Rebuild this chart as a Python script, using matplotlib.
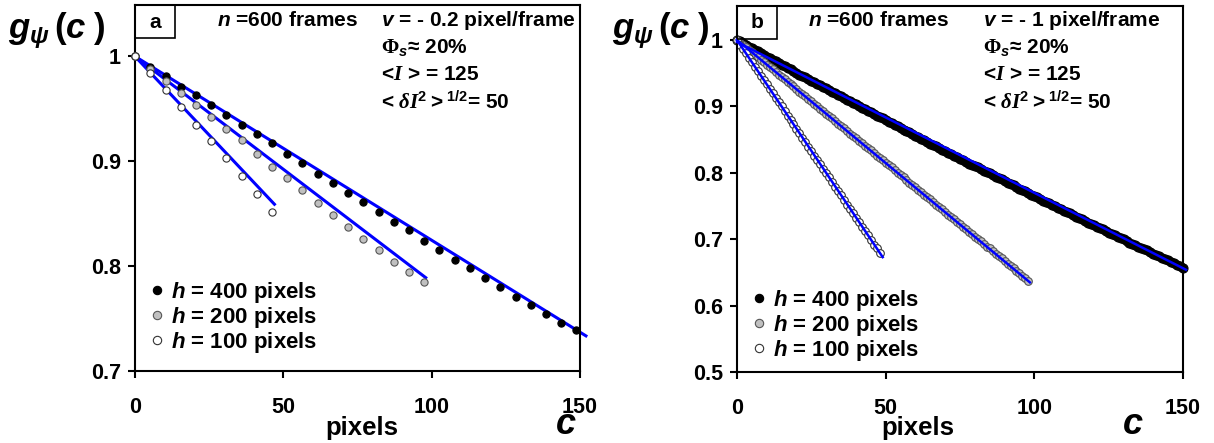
import matplotlib
matplotlib.use("Agg")
import matplotlib.pyplot as plt
from matplotlib.lines import Line2D
from matplotlib.patches import Rectangle

plt.rcParams['font.family'] = ['Liberation Sans', 'DejaVu Sans']
plt.rcParams['font.weight'] = 'bold'
plt.rcParams['mathtext.fontset'] = 'custom'
plt.rcParams['mathtext.rm'] = 'Liberation Serif'
plt.rcParams['mathtext.it'] = 'Liberation Sans:italic:bold'
plt.rcParams['mathtext.sf'] = 'Liberation Sans:bold'
plt.rcParams['mathtext.bf'] = 'Liberation Sans:bold'
plt.rcParams['mathtext.cal'] = 'Liberation Serif:italic'

# ---- panel a : v = -0.2 pixel/frame ----
c_a = [0, 5.1, 10.3, 15.4, 20.5, 25.7, 30.8, 35.9, 41.0, 46.2, 51.3, 56.4, 61.6, 66.7, 71.8,
       77.0, 82.1, 87.2, 92.3, 97.5, 102.6, 107.7, 112.9, 118.0, 123.1, 128.3, 133.4, 138.5,
       143.6, 148.8]
g_a400 = [1.000, 0.990, 0.981, 0.971, 0.963, 0.954, 0.944, 0.935, 0.926, 0.917, 0.907, 0.898,
          0.888, 0.879, 0.870, 0.861, 0.852, 0.842, 0.834, 0.824, 0.815, 0.806, 0.798, 0.789,
          0.780, 0.771, 0.763, 0.754, 0.746, 0.739]
g_a200 = [1.000, 0.988, 0.977, 0.965, 0.954, 0.942, 0.931, 0.920, 0.907, 0.895, 0.884, 0.873,
          0.860, 0.849, 0.837, 0.826, 0.815, 0.804, 0.794, 0.785]
g_a100 = [1.000, 0.984, 0.968, 0.952, 0.935, 0.919, 0.903, 0.886, 0.869, 0.852]

# linear fits (end points)
fit_a400_c, fit_a400_g = [0, 152], [1.000, 0.7335]
fit_a200_c, fit_a200_g = [0, 98], [1.000, 0.789]
fit_a100_c, fit_a100_g = [0, 47], [1.000, 0.859]

# ---- panel b : v = -1 pixel/frame ----
g_b400 = [1.000, 0.998, 0.995, 0.993, 0.990, 0.988, 0.985, 0.983, 0.980, 0.978,
          0.975, 0.973, 0.970, 0.968, 0.966, 0.963, 0.961, 0.958, 0.956, 0.953,
          0.951, 0.948, 0.946, 0.944, 0.941, 0.939, 0.936, 0.934, 0.932, 0.929,
          0.927, 0.924, 0.922, 0.920, 0.917, 0.915, 0.912, 0.910, 0.908, 0.905,
          0.903, 0.901, 0.898, 0.896, 0.893, 0.891, 0.889, 0.886, 0.884, 0.882,
          0.879, 0.877, 0.875, 0.872, 0.870, 0.868, 0.865, 0.863, 0.861, 0.858,
          0.856, 0.854, 0.851, 0.849, 0.847, 0.844, 0.842, 0.840, 0.837, 0.835,
          0.833, 0.830, 0.828, 0.826, 0.824, 0.821, 0.819, 0.817, 0.814, 0.812,
          0.810, 0.808, 0.805, 0.803, 0.801, 0.799, 0.796, 0.794, 0.792, 0.790,
          0.787, 0.785, 0.783, 0.781, 0.778, 0.776, 0.774, 0.772, 0.769, 0.767,
          0.765, 0.763, 0.761, 0.758, 0.756, 0.754, 0.752, 0.750, 0.747, 0.745,
          0.743, 0.741, 0.739, 0.736, 0.734, 0.732, 0.730, 0.728, 0.725, 0.723,
          0.721, 0.719, 0.717, 0.715, 0.712, 0.710, 0.708, 0.706, 0.704, 0.702,
          0.700, 0.697, 0.695, 0.693, 0.691, 0.689, 0.687, 0.685, 0.683, 0.680,
          0.678, 0.676, 0.674, 0.672, 0.670, 0.668, 0.666, 0.664, 0.661, 0.659,
          0.657]
g_b200 = [1.000, 0.996, 0.993, 0.989, 0.985, 0.982, 0.978, 0.974, 0.970, 0.967,
          0.963, 0.959, 0.956, 0.952, 0.948, 0.945, 0.941, 0.937, 0.933, 0.930,
          0.926, 0.922, 0.919, 0.915, 0.911, 0.908, 0.904, 0.900, 0.896, 0.893,
          0.889, 0.885, 0.882, 0.878, 0.874, 0.871, 0.867, 0.863, 0.859, 0.856,
          0.852, 0.848, 0.845, 0.841, 0.837, 0.834, 0.830, 0.826, 0.822, 0.819,
          0.815, 0.811, 0.808, 0.804, 0.800, 0.797, 0.793, 0.789, 0.785, 0.782,
          0.778, 0.774, 0.771, 0.767, 0.763, 0.760, 0.756, 0.752, 0.748, 0.745,
          0.741, 0.737, 0.734, 0.730, 0.726, 0.723, 0.719, 0.715, 0.711, 0.708,
          0.704, 0.700, 0.697, 0.693, 0.689, 0.686, 0.682, 0.678, 0.674, 0.671,
          0.667, 0.663, 0.660, 0.656, 0.652, 0.649, 0.645, 0.641, 0.637]
g_b100 = [1.000, 0.993, 0.987, 0.980, 0.973, 0.967, 0.960, 0.953, 0.946, 0.940,
          0.933, 0.926, 0.920, 0.913, 0.906, 0.900, 0.893, 0.886, 0.880, 0.873,
          0.866, 0.860, 0.853, 0.846, 0.839, 0.833, 0.826, 0.819, 0.813, 0.806,
          0.799, 0.793, 0.786, 0.779, 0.773, 0.766, 0.759, 0.752, 0.746, 0.739,
          0.732, 0.726, 0.719, 0.712, 0.706, 0.699, 0.692, 0.686, 0.679]
c_b400 = list(range(len(g_b400)))
c_b200 = list(range(len(g_b200)))
c_b100 = list(range(len(g_b100)))

fit_b400_c, fit_b400_g = [0, 151], [0.997, 0.654]
fit_b200_c, fit_b200_g = [0, 98.5], [1.000, 0.635]
fit_b100_c, fit_b100_g = [0, 49], [1.000, 0.673]

labels = [r'$h$ = 400 pixels', r'$h$ = 200 pixels', r'$h$ = 100 pixels']
info_n = r'$n$ =600 frames'
info_v = [r'$v$ = - 0.2 pixel/frame', r'$v$ = - 1 pixel/frame']
info_phi = r'$\Phi_{s}$≈ 20%'
info_I = r'<$\mathcal{I}$ > = 125'
info_dI = r'< $\mathcal{\delta I}^{\mathsf{2}}\mathsf{>}^{\mathsf{1/2}}$= 50'

BLUE = '#0000ff'
styles = [dict(mfc='black', mec='black'),
          dict(mfc='#c0c0c0', mec='#555555'),
          dict(mfc='white', mec='#333333')]

W, H = 1214, 443
fig = plt.figure(figsize=(W / 100, H / 100), dpi=100)
# axes boxes in pixels: left, right, top, bottom
box_a = (135, 580, 5, 371)
box_b = (737, 1183, 6, 372)


def make_axes(box):
    l, r, t, b = box
    return fig.add_axes([l / W, 1 - b / H, (r - l) / W, (b - t) / H])


ax_a = make_axes(box_a)
ax_b = make_axes(box_b)


def style_axes(ax):
    for s in ax.spines.values():
        s.set_linewidth(1.5)
    ax.tick_params(axis='both', direction='out', length=5, width=1.5, labelsize=15.5)
    ax.tick_params(axis='x', pad=14)
    ax.tick_params(axis='y', pad=5)
    ax.set_xlim(0, 150)
    ax.set_xticks([0, 50, 100, 150])


# panel a: markers drawn over the fitted lines
style_axes(ax_a)
for fc, fg in [(fit_a400_c, fit_a400_g), (fit_a200_c, fit_a200_g), (fit_a100_c, fit_a100_g)]:
    ax_a.plot(fc, fg, color=BLUE, lw=2.2, zorder=2, clip_on=False)
series_a = [(c_a, g_a400), (c_a[:len(g_a200)], g_a200), (c_a[:len(g_a100)], g_a100)]
for (cc, gg), st in zip(series_a, styles):
    ax_a.plot(cc, gg, 'o', ms=5.2, mew=0.8, zorder=3, clip_on=False, **st)
ax_a.set_ylim(0.7, 1.049)
ax_a.set_yticks([0.7, 0.8, 0.9, 1.0])
ax_a.set_yticklabels(['0.7', '0.8', '0.9', '1'])

# panel b: dense points, fitted lines on top
style_axes(ax_b)
series_b = [(c_b400, g_b400), (c_b200, g_b200), (c_b100, g_b100)]
for (cc, gg), st, ms in zip(series_b, styles, [6.5, 5.5, 5.5]):
    ax_b.plot(cc, gg, 'o', ms=ms, mew=0.8, zorder=2, clip_on=False, **st)
for fc, fg in [(fit_b400_c, fit_b400_g), (fit_b200_c, fit_b200_g), (fit_b100_c, fit_b100_g)]:
    ax_b.plot(fc, fg, color=BLUE, lw=1.8, zorder=3, clip_on=False)
ax_b.set_ylim(0.5, 1.0512)
ax_b.set_yticks([0.5, 0.6, 0.7, 0.8, 0.9, 1.0])
ax_b.set_yticklabels(['0.5', '0.6', '0.7', '0.8', '0.9', '1'])

handles = [Line2D([], [], ls='none', marker='o', ms=6, mew=0.8, **st) for st in styles]


def fx(box, x):
    return (x - box[0]) / (box[1] - box[0])


def fy(box, y):
    return (box[3] - y) / (box[3] - box[2])


for ax, box, tag, vtxt, n_x, ylab_x, px_x, cx_x, leg_y in [
        (ax_a, box_a, 'a', info_v[0], 217, 8, 362, 566, 355),
        (ax_b, box_b, 'b', info_v[1], 808, 612, 918, 1133, 363)]:
    ax.legend(handles, labels, loc='lower left',
              bbox_to_anchor=(fx(box, box[0] + 12), fy(box, leg_y)), frameon=False,
              handlelength=0.9, handletextpad=0.2, labelspacing=0.0, borderaxespad=0,
              borderpad=0, prop=dict(size=16, weight='bold'))
    ax.add_patch(Rectangle((0, fy(box, box[2] + 33)), fx(box, box[0] + 40), 1 - fy(box, box[2] + 33),
                           transform=ax.transAxes, fill=False, lw=1.2, ec='black', zorder=5))
    ax.text(fx(box, box[0] + 20), fy(box, box[2] + 17), tag, transform=ax.transAxes,
            ha='center', va='center', fontsize=15)
    ax.text(fx(box, n_x), fy(box, 21), info_n, transform=ax.transAxes, ha='left', va='center', fontsize=15)
    ax.text(fx(box, box[0] + 246), fy(box, 21), vtxt, transform=ax.transAxes, ha='left', va='center', fontsize=15)
    ax.text(fx(box, box[0] + 246), fy(box, 48), info_phi, transform=ax.transAxes, ha='left', va='center', fontsize=15)
    ax.text(fx(box, box[0] + 246), fy(box, 75), info_I, transform=ax.transAxes, ha='left', va='center', fontsize=15)
    ax.text(fx(box, box[0] + 246), fy(box, 102), info_dI, transform=ax.transAxes, ha='left', va='center', fontsize=15)
    ax.text(fx(box, ylab_x), fy(box, 31), r'$g_{\psi}\,\mathsf{(}c\;\mathsf{)}$', transform=ax.transAxes,
            ha='left', va='center', fontsize=25)
    ax.text(fx(box, px_x), fy(box, 435), 'pixels', transform=ax.transAxes, ha='center', va='baseline', fontsize=18.5)
    ax.text(fx(box, cx_x), fy(box, 434), 'c', transform=ax.transAxes, ha='center', va='baseline',
            fontsize=26, style='italic')

fig.savefig('out.png', dpi=100)
